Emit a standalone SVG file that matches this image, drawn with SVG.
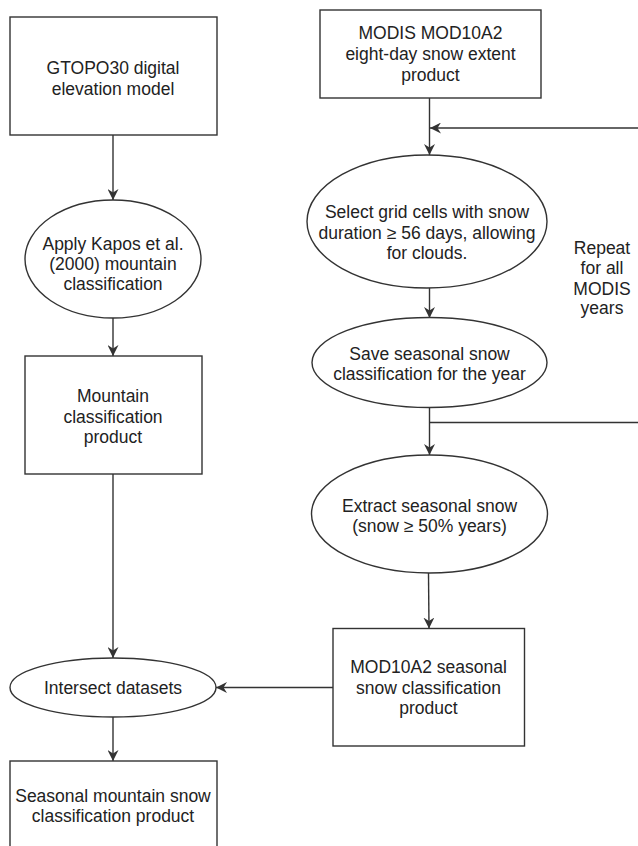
<svg xmlns="http://www.w3.org/2000/svg" width="638" height="846" viewBox="0 0 638 846">
<style>
.n{fill:#fff;stroke:#333;stroke-width:1.4}
.t{font-family:"Liberation Sans",Arial,Helvetica,sans-serif;font-size:17.5px;fill:#222;text-anchor:middle}
.c{fill:none;stroke:#333;stroke-width:1.4}
</style>
<defs>
<marker id="ah" markerUnits="userSpaceOnUse" markerWidth="12" markerHeight="11" refX="11" refY="5.5" orient="auto">
<path d="M0,0 L11,5.5 L0,11 L3.5,5.5 z" fill="#333"/>
</marker>
</defs>
<rect width="638" height="846" fill="#fff"/>
<g id="connectors">
<line class="c" x1="113" y1="135" x2="113" y2="200" marker-end="url(#ah)"/>
<line class="c" x1="113" y1="318" x2="113" y2="356" marker-end="url(#ah)"/>
<line class="c" x1="113" y1="474" x2="113" y2="658" marker-end="url(#ah)"/>
<line class="c" x1="113" y1="717" x2="113" y2="761" marker-end="url(#ah)"/>
<line class="c" x1="429.5" y1="98" x2="429.5" y2="155" marker-end="url(#ah)"/>
<line class="c" x1="638" y1="128" x2="430" y2="128" marker-end="url(#ah)"/>
<line class="c" x1="429.5" y1="288" x2="429.5" y2="318" marker-end="url(#ah)"/>
<line class="c" x1="429.5" y1="407" x2="429.5" y2="455" marker-end="url(#ah)"/>
<line class="c" x1="429.5" y1="422.5" x2="638" y2="422.5"/>
<line class="c" x1="428.5" y1="573" x2="429" y2="628.5" marker-end="url(#ah)"/>
<line class="c" x1="333" y1="687.5" x2="216" y2="687.5" marker-end="url(#ah)"/>
</g>
<g id="gtopo30">
<rect class="n" x="10" y="17" width="207" height="118"/>
<text class="t" x="113" y="74">GTOPO30 digital</text>
<text class="t" x="113" y="95">elevation model</text>
</g>
<g id="kapos">
<ellipse class="n" cx="113" cy="259" rx="88" ry="59"/>
<text class="t" x="113" y="249.5">Apply Kapos et al.</text>
<text class="t" x="113" y="270">(2000) mountain</text>
<text class="t" x="113" y="290">classification</text>
</g>
<g id="mountain">
<rect class="n" x="25" y="356" width="177" height="118"/>
<text class="t" x="113" y="402">Mountain</text>
<text class="t" x="113" y="422.5">classification</text>
<text class="t" x="113" y="443">product</text>
</g>
<g id="intersect">
<ellipse class="n" cx="113" cy="687.5" rx="103" ry="29.5"/>
<text class="t" x="113" y="694">Intersect datasets</text>
</g>
<g id="final">
<rect class="n" x="10" y="761" width="207" height="100"/>
<text class="t" x="113" y="802">Seasonal mountain snow</text>
<text class="t" x="113" y="822">classification product</text>
</g>
<g id="modis">
<rect class="n" x="320" y="10" width="221" height="88"/>
<text class="t" x="430.5" y="39">MODIS MOD10A2</text>
<text class="t" x="430.5" y="60">eight-day snow extent</text>
<text class="t" x="430.5" y="81">product</text>
</g>
<g id="select">
<ellipse class="n" cx="427" cy="221.5" rx="120" ry="66.5"/>
<text class="t" x="427" y="218">Select grid cells with snow</text>
<text class="t" x="427" y="238.5">duration ≥ 56 days, allowing</text>
<text class="t" x="427" y="259">for clouds.</text>
</g>
<g id="repeat">
<text class="t" x="602" y="254">Repeat</text>
<text class="t" x="602" y="274">for all</text>
<text class="t" x="602" y="294.5">MODIS</text>
<text class="t" x="602" y="314">years</text>
</g>
<g id="save">
<ellipse class="n" cx="429.5" cy="362.5" rx="117.5" ry="45"/>
<text class="t" x="429.5" y="360">Save seasonal snow</text>
<text class="t" x="429.5" y="380">classification for the year</text>
</g>
<g id="extract">
<ellipse class="n" cx="429.5" cy="514" rx="118" ry="59"/>
<text class="t" x="429.5" y="512">Extract seasonal snow</text>
<text class="t" x="429.5" y="532">(snow ≥ 50% years)</text>
</g>
<g id="mod10a2">
<rect class="n" x="333" y="628.5" width="191.5" height="117.5"/>
<text class="t" x="428.5" y="673">MOD10A2 seasonal</text>
<text class="t" x="428.5" y="694">snow classification</text>
<text class="t" x="428.5" y="714">product</text>
</g>
</svg>
